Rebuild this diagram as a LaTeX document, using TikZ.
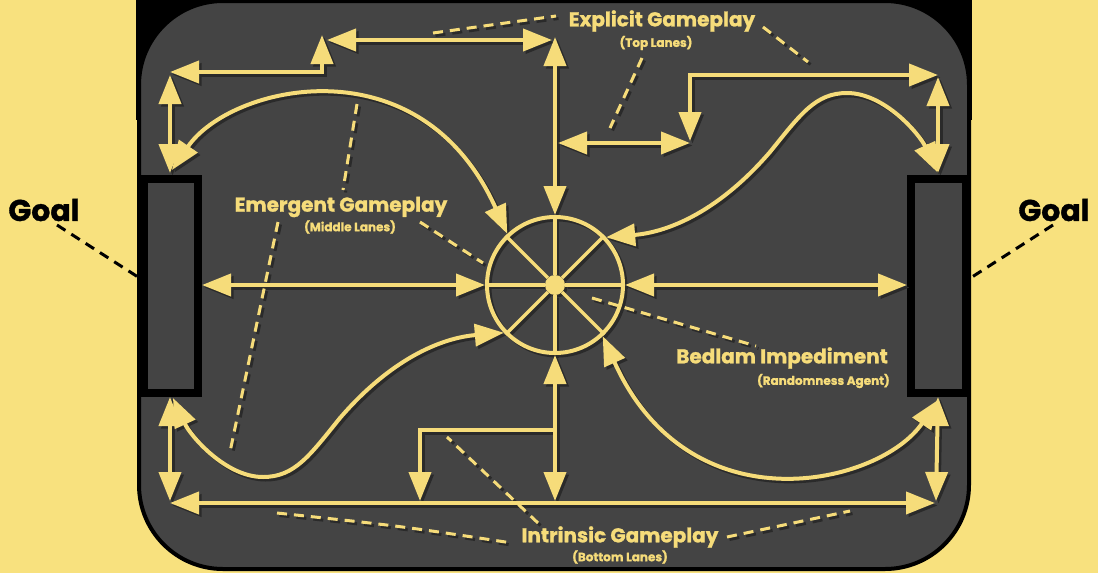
\documentclass[tikz,border=0pt]{standalone}
\usepackage{fontspec}
\setmainfont{Poppins}[BoldFeatures={FakeBold=1.2}]
\usetikzlibrary{arrows.meta}
\definecolor{bg}{HTML}{F8E17E}
\definecolor{fieldc}{HTML}{444444}
\definecolor{lane}{HTML}{F6DC7A}
\definecolor{shade}{HTML}{2A2A2A}
\newcommand\mylblfont{\fontsize{20}{22}\selectfont\bfseries}
\newcommand\mysubfont{\fontsize{12}{14}\selectfont\bfseries}
\newcommand\mygoalfont{\fontsize{30}{32}\selectfont\bfseries}
\tikzset{
  laneline/.style={line width=4pt},
  spoke/.style={line width=3.5pt},
  leader/.style={line width=3pt, dash pattern=on 10pt off 7pt},
  goalleader/.style={line width=3pt, dash pattern=on 10pt off 7pt, draw=black},
  goalbox/.style={draw=black, line width=8pt, fill=fieldc},
  lbl/.style={inner sep=0pt, font=\mylblfont, text=lane},
  sublbl/.style={inner sep=0pt, font=\mysubfont, text=lane},
}
\newcommand\lanesdraw{%
  % wheel
  \node[circle, draw, line width=4pt, minimum size=136pt, inner sep=0pt] (wheel) at (555,285) {};
  \node[circle, fill, minimum size=20pt, inner sep=0pt] (hub) at (555,285) {};
  \foreach \a in {0,45,...,315} \draw[spoke] (hub.\a) -- (wheel.\a);
  % coordinates
  \coordinate (mL) at (202,285);
  \coordinate (mR) at (907,285);
  \coordinate (vTop) at (555,37);
  \coordinate (vBot) at (555,501);
  \coordinate (tH1) at (327,40);
  \coordinate (tH2) at (552,40);
  \coordinate (tl1) at (170,72);
  \coordinate (tl2) at (322,72);
  \coordinate (tl3) at (322,35);
  \coordinate (tB1) at (558,143);
  \coordinate (tB2) at (690,143);
  \coordinate (tS1) at (690,141);
  \coordinate (tS2) at (690,75);
  \coordinate (tS3) at (938,75);
  \coordinate (bJ) at (555,430);
  \coordinate (bK) at (420,430);
  \coordinate (bE) at (420,501);
  \coordinate (bH1) at (170,503);
  \coordinate (bH2) at (935,503);
  \coordinate (lv1) at (170,75);
  \coordinate (lv2) at (170,173);
  \coordinate (lv3) at (170,397);
  \coordinate (lv4) at (170,501);
  \coordinate (rv1) at (938,77);
  \coordinate (rv2) at (938,173);
  \coordinate (rv3) at (938,397);
  \coordinate (rv4) at (936,501);
  \coordinate (cTL) at (172,170);
  \coordinate (cTR) at (937,172);
  \coordinate (cBL) at (173,398);
  \coordinate (cBR) at (938,400);
  % straight lanes
  \draw[laneline,<->] (mL) -- (wheel.west);
  \draw[laneline,<->] (wheel.east) -- (mR);
  \draw[laneline,<->] (wheel.north) -- (vTop);
  \draw[laneline,<->] (wheel.south) -- (vBot);
  \draw[laneline,<->] (tH1) -- (tH2);
  \draw[laneline,<->] (tl1) -- (tl2) -- (tl3);
  \draw[laneline,<->] (tB1) -- (tB2);
  \draw[laneline,<->] (tS1) -- (tS2) -- (tS3);
  \draw[laneline,->] (bJ) -- (bK) -- (bE);
  \draw[laneline,<->] (bH1) -- (bH2);
  \draw[laneline,<->] (lv1) -- (lv2);
  \draw[laneline,<->] (lv3) -- (lv4);
  \draw[laneline,<->] (rv1) -- (rv2);
  \draw[laneline,<->] (rv3) -- (rv4);
  % curved lanes
  \draw[laneline,<->] (cTL) .. controls (230,85) and (420,40) .. (wheel.133);
  \draw[laneline,<->] (wheel.43) .. controls (670,232) and (720,210) .. (770,152)
      .. controls (800,115) and (815,93) .. (847,93)
      .. controls (885,93) and (920,135) .. (cTR);
  \draw[laneline,<->] (wheel.223) .. controls (440,338) and (390,360) .. (340,418)
      .. controls (310,455) and (295,477) .. (263,477)
      .. controls (225,477) and (190,435) .. (cBL);
  \draw[laneline,<->] (cBR) .. controls (880,485) and (690,530) .. (wheel.313);
  % leaders
  \coordinate (e1) at (433,33);  \coordinate (e2) at (556,16);
  \coordinate (e3) at (763,27);  \coordinate (e4) at (808,62);
  \coordinate (e5) at (642,58);  \coordinate (e6) at (610,128);
  \coordinate (m1) at (357,104); \coordinate (m2) at (343,190);
  \coordinate (m3) at (278,222); \coordinate (m4) at (230,452);
  \coordinate (m5) at (420,222); \coordinate (m6) at (483,263);
  \coordinate (i1) at (277,513); \coordinate (i2) at (512,543);
  \coordinate (i3) at (727,537); \coordinate (i4) at (850,511);
  \coordinate (i5) at (538,523); \coordinate (i6) at (447,437);
  \coordinate (b1) at (592,298); \coordinate (b2) at (756,346);
  \draw[leader] (e1) -- (e2);
  \draw[leader] (e3) -- (e4);
  \draw[leader] (e5) -- (e6);
  \draw[leader] (m1) -- (m2);
  \draw[leader] (m3) -- (m4);
  \draw[leader] (m5) -- (m6);
  \draw[leader] (i1) .. controls (400,526) .. (i2);
  \draw[leader] (i3) -- (i4);
  \draw[leader] (i5) -- (i6);
  \draw[leader] (b1) -- (b2);
}
\begin{document}
\begin{tikzpicture}[x=1pt, y=-1pt, >={Triangle[length=29pt,width=22pt]}, line join=miter]
\useasboundingbox (0,0) rectangle (1098,573);
\fill[bg] (0,0) rectangle (1098,573);
\fill[black] (136,0) rectangle (972,120);
\draw[line width=4pt, fill=fieldc, rounded corners=84pt] (139,1) rectangle (969,569);
% goals
\draw[goalbox] (144,179) rectangle (198,393);
\draw[goalbox] (911,179) rectangle (966,393);
% lanes with shadow
\begin{scope}[shift={(2.5,2.5)}, color=shade]
  \lanesdraw
\end{scope}
\begin{scope}[color=lane]
  \lanesdraw
\end{scope}
% labels
\node[lbl] (explicit) at (662,21) {Explicit Gameplay};
\node[sublbl] (toplanes) at (656,43) {(Top Lanes)};
\node[lbl] (emergent) at (341,207) {Emergent Gameplay};
\node[sublbl] (midlanes) at (350,227) {(Middle Lanes)};
\node[lbl] (intrinsic) at (620,537) {Intrinsic Gameplay};
\node[sublbl] (botlanes) at (620,557) {(Bottom Lanes)};
\node[lbl, anchor=east] (bedlam) at (888,358) {Bedlam Impediment};
\node[sublbl, anchor=east] (random) at (890,381) {(Randomness Agent)};
% goal labels
\node[font=\mygoalfont, text=black, inner sep=0pt] (goalL) at (44,210) {Goal};
\node[font=\mygoalfont, text=black, inner sep=0pt] (goalR) at (1054,210) {Goal};
\coordinate (gl1) at (57,225); \coordinate (gl2) at (138,277);
\coordinate (gr1) at (1053,225); \coordinate (gr2) at (972,277);
\draw[goalleader] (gl1) -- (gl2);
\draw[goalleader] (gr1) -- (gr2);
\end{tikzpicture}
\end{document}
